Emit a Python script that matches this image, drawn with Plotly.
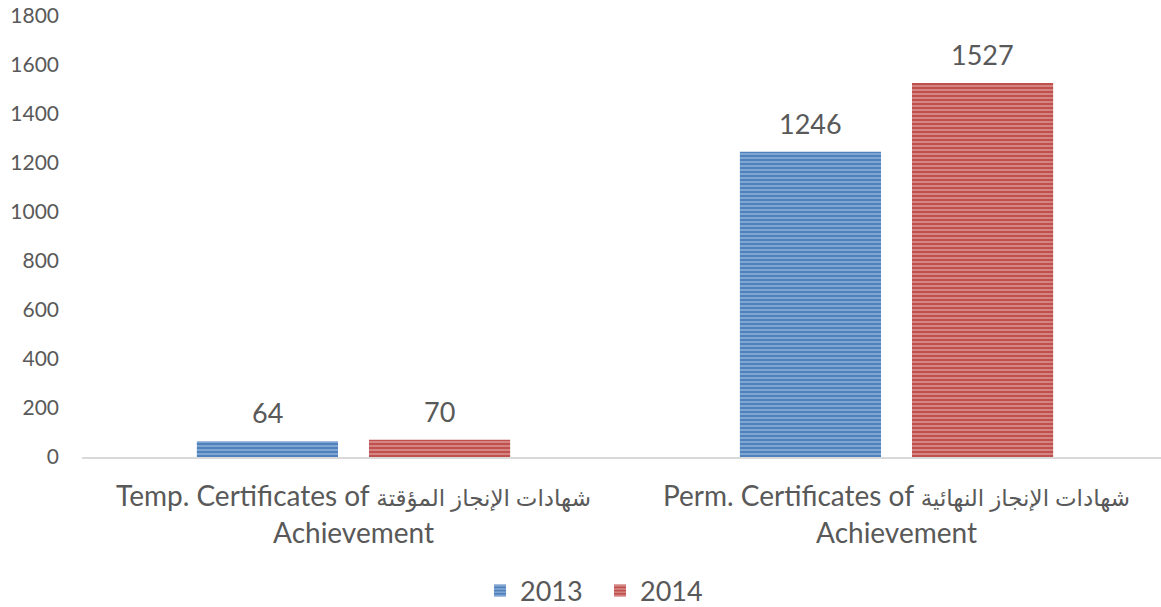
import plotly.graph_objects as go

ar_style = "font-size:23px"
categories = [
    "Temp. Certificates of <span style='%s'>شهادات الإنجاز المؤقتة</span><br>Achievement" % ar_style,
    "Perm. Certificates of <span style='%s'>شهادات الإنجاز النهائية</span><br>Achievement" % ar_style,
]
series_names = ["2013", "2014"]
values_2013 = [64, 1246]
values_2014 = [70, 1527]
y_ticks = [0, 200, 400, 600, 800, 1000, 1200, 1400, 1600, 1800]

colors = ["#4F81BD", "#C0504D"]
stripe = ["#BFD0EA", "#EDC3C2"]
txt = "#595959"
font_family = "Lato, 'DejaVu Sans', sans-serif"

bargap = 0.366
bargroupgap = 0.18

fig = go.Figure()
for name, vals, c, s in zip(series_names, [values_2013, values_2014], colors, stripe):
    fig.add_trace(go.Bar(
        name=name,
        x=categories,
        y=vals,
        marker=dict(
            color=c,
            line=dict(width=0),
            pattern=dict(shape="-", fgcolor=s, bgcolor=c, size=4, solidity=0.45, fillmode="overlay"),
        ),
    ))

# data labels above each bar, positioned via the category axis
n = len(series_names)
group_w = 1 - bargap
for i, vals in enumerate([values_2013, values_2014]):
    off = -group_w / 2 + group_w / n * (i + 0.5)
    for j, v in enumerate(vals):
        fig.add_annotation(
            x=j + off, y=v, xref="x", yref="y",
            text=str(v), showarrow=False, yanchor="bottom", yshift=10,
            font=dict(size=27, color=txt, family=font_family),
        )

fig.update_layout(
    width=1168, height=607,
    margin=dict(l=82, r=0, t=16, b=150, autoexpand=False),
    plot_bgcolor="white", paper_bgcolor="white",
    barmode="group", bargap=bargap, bargroupgap=bargroupgap,
    font=dict(family=font_family, color=txt),
    showlegend=True,
    legend=dict(
        orientation="h", xref="paper", yref="paper",
        x=0.477, xanchor="center", y=-0.304, yanchor="middle",
        font=dict(size=27, color=txt), itemwidth=30, entrywidth=75,
    ),
)
fig.update_yaxes(
    range=[0, 1800], tickvals=y_ticks, showgrid=False, zeroline=False,
    showline=False, tickfont=dict(size=21, color=txt), ticklabelstandoff=22,
)
fig.update_xaxes(
    showline=True, linecolor="#D9D9D9", linewidth=1.5,
    tickfont=dict(size=28, color=txt), ticklabelstandoff=14,
)

fig.write_html(
    "out.html",
    config={"displayModeBar": False},
    post_script="document.body.style.margin='0';document.body.style.overflow='hidden';",
)
